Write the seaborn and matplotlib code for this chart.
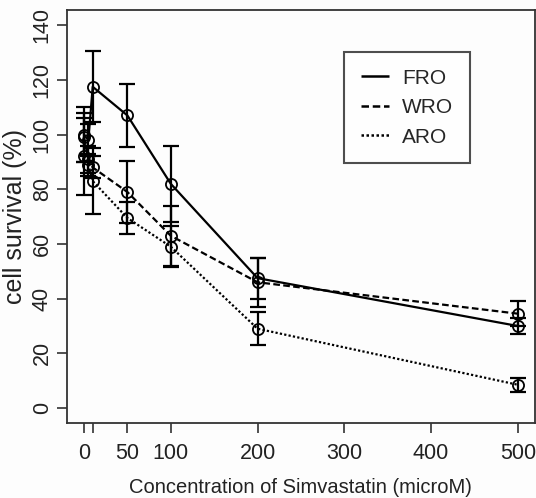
import numpy as np
import pandas as pd
import matplotlib
matplotlib.use("Agg")
import matplotlib.pyplot as plt
import seaborn as sns
from matplotlib.lines import Line2D

# ---- data ----
conc = [0, 5, 10, 50, 100, 200, 500]
fro = [100, 98, 117.5, 107, 82, 47.5, 30]
fro_err = [10, 6, 13, 11.5, 14, 7.5, 3]
wro = [99, 91, 88, 79, 63, 46, 34.5]
wro_err = [9, 5, 4, 11.3, 11, 9, 4.6]
aro = [92, 89, 83, 69.5, 59, 29, 8.5]
aro_err = [14, 4, 12, 6, 7.5, 6, 2.5]
series_names = ["FRO", "WRO", "ARO"]
x_ticks = [0, 10, 50, 100, 200, 300, 400, 500]
x_ticklabels = ["0", "", "50", "100", "200", "300", "400", "500"]
y_ticks = [0, 20, 40, 60, 80, 100, 120, 140]

sns.set_theme(style="white")
plt.rcParams["font.family"] = ["Liberation Sans", "DejaVu Sans"]

W, H = 536, 498
fig = plt.figure(figsize=(W / 100, H / 100), dpi=100)
fig.patch.set_facecolor("#fdfdfd")
ax_l, ax_b, ax_w, ax_h = 0.1244, 0.15, 0.874, 0.83
ax = fig.add_axes([ax_l, ax_b, ax_w, ax_h])
ax.set_facecolor("#fdfdfd")

styles = {"FRO": (0, ()), "WRO": (0, (3.0, 1.5)), "ARO": (0, (1.0, 1.0))}
vals = {"FRO": (fro, fro_err), "WRO": (wro, wro_err), "ARO": (aro, aro_err)}

for name in series_names:
    y, e = vals[name]
    df = pd.DataFrame({"conc": conc, "surv": y})
    sns.lineplot(data=df, x="conc", y="surv", ax=ax, color="black",
                 linewidth=1.6, linestyle=styles[name], marker="o",
                 markersize=8, markerfacecolor="none", markeredgecolor="black",
                 markeredgewidth=1.3, legend=False)
    ax.errorbar(conc, y, yerr=e, fmt="none", ecolor="black", elinewidth=1.6,
                capsize=5.5, capthick=1.6)

ax.set_xlim(-20, 520)
ax.set_ylim(-5.6, 145.6)
ax.set_xticks(x_ticks)
ax.set_xticklabels(x_ticklabels, fontsize=15.5, color="#222222")
ax.set_yticks(y_ticks)
ax.set_yticklabels([str(v) for v in y_ticks], fontsize=15.5, color="#222222",
                   rotation=90, va="center")
ax.tick_params(axis="both", which="both", direction="out", length=7, width=1.2,
               color="#333333", bottom=True, left=True)
ax.tick_params(axis="x", pad=7)
ax.tick_params(axis="y", pad=3)
for s in ax.spines.values():
    s.set_color("#333333")
    s.set_linewidth(1.3)

ax.set_xlabel("Concentration of Simvastatin (microM)", fontsize=14.5,
              color="#222222")
ax.set_ylabel("cell survival (%)", fontsize=18, color="#222222")
# place labels by pixel centre (converted to axes fraction)
ax_px_l, ax_px_w = ax_l * W, ax_w * W
ax_px_b, ax_px_h = ax_b * H, ax_h * H
ax.xaxis.set_label_coords(0.5, (H - 487 - ax_px_b) / ax_px_h)
ax.xaxis.label.set_va("center")
ax.yaxis.set_label_coords((15 - ax_px_l) / ax_px_w, 0.5)
ax.yaxis.label.set_va("center")

handles = [Line2D([0], [0], color="black", linewidth=1.8, linestyle=styles[n])
           for n in series_names]
leg = ax.legend(handles, series_names, loc="upper left",
                bbox_to_anchor=(0.593, 0.898), fontsize=15, frameon=True,
                fancybox=False, handlelength=1.35, handletextpad=0.6,
                borderpad=0.8, labelspacing=0.5, borderaxespad=0)
leg.get_frame().set_edgecolor("#222222")
leg.get_frame().set_linewidth(1.5)
leg.get_frame().set_facecolor("white")

fig.savefig("out.png", dpi=100, facecolor=fig.get_facecolor())
